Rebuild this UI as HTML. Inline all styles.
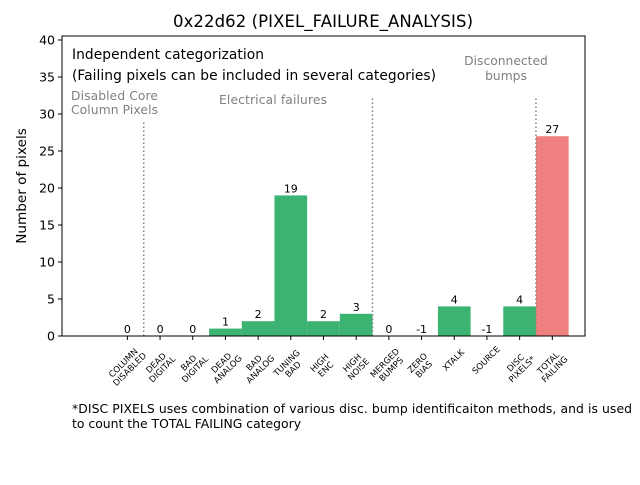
<!DOCTYPE html>
<html><head><meta charset="utf-8"><style>body{margin:0;background:#fff}svg{font-family:"DejaVu Sans","Liberation Sans",sans-serif}</style></head>
<body>
<svg id="c" width="640" height="480" viewBox="0 0 640 480">
<defs><clipPath id="clip"><rect x="62" y="36" width="523" height="300"/></clipPath></defs>
<text x="323" y="27" font-size="16.5" text-anchor="middle" textLength="300">0x22d62 (PIXEL_FAILURE_ANALYSIS)</text>
<g id="bars" clip-path="url(#clip)"></g>
<g id="ann"></g>
<rect x="62" y="36" width="523" height="300" fill="none" stroke="#000" stroke-width="1"/>
<g id="yaxis"></g><g id="xaxis"></g>
<text transform="translate(26,186) rotate(-90)" font-size="13.6" text-anchor="middle">Number of pixels</text>
<text x="72" y="59" font-size="13.8" textLength="192">Independent categorization</text>
<text x="72" y="80" font-size="13.8" textLength="364">(Failing pixels can be included in several categories)</text>
<g fill="#808080" font-size="12.3">
<text x="71" y="100" textLength="87">Disabled Core</text>
<text x="71" y="114" textLength="87">Column Pixels</text>
<text x="219" y="104" textLength="108">Electrical failures</text>
<text x="506" y="65" text-anchor="middle">Disconnected</text>
<text x="506" y="80" text-anchor="middle">bumps</text>
</g>
<text x="72" y="413" font-size="12.4" textLength="560">*DISC PIXELS uses combination of various disc. bump identificaiton methods, and is used</text>
<text x="72" y="428" font-size="12.4">to count the TOTAL FAILING category</text>
</svg>
<script>
const categories=["COLUMN\nDISABLED","DEAD\nDIGITAL","BAD\nDIGITAL","DEAD\nANALOG","BAD\nANALOG","TUNING\nBAD","HIGH\nENC","HIGH\nNOISE","MERGED\nBUMPS","ZERO\nBIAS","XTALK","SOURCE","DISC\nPIXELS*","TOTAL\nFAILING"];
const values=[0,0,0,1,2,19,2,3,0,-1,4,-1,4,27];
const yTicks=[0,5,10,15,20,25,30,35,40];
const separators=[0.5,7.5,12.5];
const separatorTops=[29,32.3,32.3];
const NS="http://www.w3.org/2000/svg";
const X=i=>62+(i+2)*523/16, Y=v=>336-(v/40.54)*300, W=523/16;
function mk(t,a,p){const e=document.createElementNS(NS,t);for(const k in a)e.setAttribute(k,a[k]);p.appendChild(e);return e;}
const bars=document.getElementById('bars'),ann=document.getElementById('ann'),xa=document.getElementById('xaxis'),ya=document.getElementById('yaxis');
values.forEach((v,i)=>{
 const r=mk('rect',{x:X(i)-W/2,y:Math.min(Y(v),Y(0)),width:W,height:Math.abs(Y(v)-Y(0)),fill:i==13?'#f08080':'#3cb371'},bars);
 
 
 const t=mk('text',{x:X(i),y:Y(Math.max(v,0))-3,'font-size':11,'text-anchor':'middle'},ann);t.textContent=v;
 
 
 mk('line',{x1:X(i),x2:X(i),y1:336,y2:340,stroke:'#000'},xa);
 const lines=categories[i].split('\n');
 const lab=mk('text',{'font-size':8.5,'text-anchor':'middle',transform:`translate(${X(i)-1},${lines.length>1?366:360}) rotate(-45)`},xa);
 
 
 lines.forEach((s,j)=>{const ts=mk('tspan',{x:0,y:(j-(lines.length-1)/2)*9+3},lab);ts.textContent=s;});
});
separators.forEach((s,k)=>{const l=mk('line',{x1:X(s),x2:X(s),y1:336,y2:Y(separatorTops[k]),stroke:'#808080','stroke-width':1.5,'stroke-dasharray':'1.5,2.5'},ann);
 
 });
yTicks.forEach(v=>{mk('line',{x1:58,x2:62,y1:Y(v),y2:Y(v),stroke:'#000'},ya);
 const t=mk('text',{x:55,y:Y(v)+4.5,'font-size':12.5,'text-anchor':'end'},ya);t.textContent=v;
 
 });
</script>
</body></html>
